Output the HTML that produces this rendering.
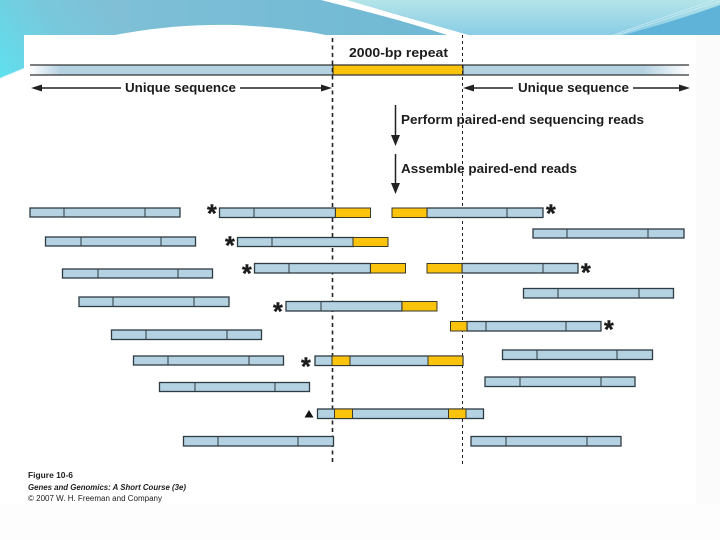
<!DOCTYPE html>
<html><head><meta charset="utf-8"><style>html,body{margin:0;padding:0;background:#fff}svg{display:block}text{font-family:"Liberation Sans",sans-serif;fill:#1c1c1c}.b{font-weight:bold;font-size:13px}.bar{fill:#b5d2e2;stroke:#2e3b42;stroke-width:1.3}.y{fill:#fcc30c;stroke:#3a3a2a;stroke-width:1}.d{stroke:#2e3b42;stroke-width:1}.s{font-weight:bold;font-size:25px;stroke:#1c1c1c;stroke-width:.4}</style></head><body>
<svg width="720" height="540" viewBox="0 0 720 540" xmlns="http://www.w3.org/2000/svg">
<defs>
<linearGradient id="bg" gradientUnits="userSpaceOnUse" x1="0" y1="78" x2="110" y2="0"><stop offset="0" stop-color="#5fe0ee"/><stop offset="0.55" stop-color="#78c8dc"/><stop offset="1" stop-color="#80bfd6"/></linearGradient>
<linearGradient id="bg2" x1="0" y1="0" x2="0" y2="1"><stop offset="0" stop-color="#b4e4e8"/><stop offset="1" stop-color="#88cce6"/></linearGradient>
<linearGradient id="bg3" x1="0" y1="0" x2="1" y2="0"><stop offset="0" stop-color="#7dbfd6"/><stop offset="1" stop-color="#6fb8d4"/></linearGradient>
<linearGradient id="l" x1="0" y1="0" x2="1" y2="0"><stop offset="0" stop-color="#fff"/><stop offset="0.1" stop-color="#b5d2e2"/><stop offset="1" stop-color="#b5d2e2"/></linearGradient>
<linearGradient id="r" x1="1" y1="0" x2="0" y2="0"><stop offset="0" stop-color="#fff"/><stop offset="0.2" stop-color="#b5d2e2"/><stop offset="1" stop-color="#b5d2e2"/></linearGradient>
</defs>
<rect width="720" height="540" fill="#fff"/>
<path d="M0 0H130V36H24V68L0 78Z" fill="url(#bg)"/>
<rect x="130" y="0" width="340" height="36" fill="url(#bg3)"/>
<path d="M345 0H720V36H470C430 24 385 10 345 0Z" fill="url(#bg2)"/>
<path d="M321 0H347C385 11 430 24 472 36H450C405 21 360 10 321 0Z" fill="#fff"/>
<path d="M620 36C650 28 690 16 720 5V36Z" fill="#5fb2d8"/>
<path d="M610 36C650 22 690 8 720 -2" fill="none" stroke="#d8f0f4" stroke-width=".6"/>
<path d="M614 36C652 24 692 10 720 1" fill="none" stroke="#d8f0f4" stroke-width=".6"/>
<path d="M110 36C150 28 190 24 235 25C275 27 310 31 330 36Z" fill="#fff"/>
<path d="M0 79L24 69" stroke="#e8f8fa" stroke-width="1"/>
<rect x="24" y="35" width="672" height="470" fill="#fff"/>
<rect x="696" y="35" width="24" height="470" fill="#fbfbfb"/>
<rect x="0" y="505" width="720" height="35" fill="#fdfdfd"/>

<rect x="30" y="65" width="303" height="10" fill="url(#l)"/>
<rect x="463" y="65" width="226" height="10" fill="url(#r)"/>
<rect x="333" y="65" width="130" height="10" fill="#fcc30c"/>
<path d="M30 65H689M30 75H689" stroke="#333" stroke-width="1.3"/>
<path d="M333 65V75M463 65V75" stroke="#222" stroke-width="1"/>

<path d="M332.500 38V465" stroke="#222" stroke-width="1.6" stroke-dasharray="4 3.500"/>
<path d="M462.500 35V465" stroke="#222" stroke-width="1" stroke-dasharray="3 3"/>

<text class="b" x="349" y="57" textLength="99" lengthAdjust="spacingAndGlyphs">2000-bp repeat</text>
<text class="b" x="125" y="92" textLength="111" lengthAdjust="spacingAndGlyphs">Unique sequence</text>
<text class="b" x="518" y="92" textLength="111" lengthAdjust="spacingAndGlyphs">Unique sequence</text>
<text class="b" x="401" y="124" textLength="243" lengthAdjust="spacingAndGlyphs">Perform paired-end sequencing reads</text>
<text class="b" x="401" y="173" textLength="176" lengthAdjust="spacingAndGlyphs">Assemble paired-end reads</text>

<g stroke="#222" stroke-width="1.500"><path d="M38 88H121M240 88H325M470 88H513M633 88H682M395.500 105V136M395.500 154V186"/></g>
<g fill="#222"><path d="M31 88L42 84.500V91.500Z"/><path d="M332 88L321 84.500V91.500Z"/><path d="M463 88L474 84.500V91.500Z"/><path d="M690 88L679 84.500V91.500Z"/><path d="M395.500 146L391 135H400Z"/><path d="M395.500 194L391 183H400Z"/></g>

<!-- left -->
<rect class="bar" x="30" y="208" width="150" height="9"/><path class="d" d="M64 208v9M145 208v9"/>
<rect class="bar" x="45.500" y="237" width="150" height="9"/><path class="d" d="M81 237v9M161 237v9"/>
<rect class="bar" x="62.500" y="269" width="150" height="9"/><path class="d" d="M98 269v9M178 269v9"/>
<rect class="bar" x="79" y="297" width="150" height="9.500"/><path class="d" d="M113 297v9M194 297v9"/>
<rect class="bar" x="111.500" y="330" width="150" height="9.500"/><path class="d" d="M146 330v9M227 330v9"/>
<rect class="bar" x="133.500" y="356" width="150" height="9"/><path class="d" d="M168 356v9M249 356v9"/>
<rect class="bar" x="159.500" y="382.500" width="150" height="9"/><path class="d" d="M195 382v9M275 382v9"/>
<rect class="bar" x="183.500" y="436.500" width="150" height="9.500"/><path class="d" d="M218 436v10M298 436v10"/>

<!-- centre -->
<rect class="bar" x="219.500" y="208" width="116" height="9.500"/><rect class="y" x="335.500" y="208" width="35" height="9.500"/><path class="d" d="M254 208v9"/>
<rect class="bar" x="237.500" y="237.500" width="116" height="9"/><rect class="y" x="353" y="237.500" width="35" height="9"/><path class="d" d="M272 237v9"/>
<rect class="bar" x="254.500" y="263.500" width="116" height="9.500"/><rect class="y" x="370.500" y="263.500" width="35" height="9.500"/><path class="d" d="M289 264v9"/>
<rect class="bar" x="286" y="301.500" width="116" height="9.500"/><rect class="y" x="402" y="301.500" width="35" height="9.500"/><path class="d" d="M321 301v10"/>
<rect class="bar" x="315" y="356" width="148" height="9.500"/><rect class="y" x="332" y="356" width="18" height="9.500"/><rect class="y" x="428" y="356" width="35" height="9.500"/>
<rect class="bar" x="317.500" y="409" width="166" height="9.500"/><rect class="y" x="334.500" y="409" width="18" height="9.500"/><rect class="y" x="448.500" y="409" width="17.500" height="9.500"/>

<!-- right -->
<rect class="bar" x="427" y="208" width="116" height="9.500"/><rect class="y" x="392" y="208" width="35" height="9.500"/><path class="d" d="M507 208v9"/>
<rect class="bar" x="533" y="229" width="151" height="9"/><path class="d" d="M567 229v9M648 229v9"/>
<rect class="bar" x="462" y="263.500" width="116" height="9.500"/><rect class="y" x="427" y="263.500" width="35" height="9.500"/><path class="d" d="M543 264v9"/>
<rect class="bar" x="523.500" y="288.500" width="150" height="9.500"/><path class="d" d="M558 289v9M639 289v9"/>
<rect class="bar" x="467" y="321.500" width="134" height="9.500"/><rect class="y" x="450.500" y="321.500" width="16.500" height="9.500"/><path class="d" d="M486 321v10M566 321v10"/>
<rect class="bar" x="502.500" y="350" width="150" height="9.500"/><path class="d" d="M537 350v9M617 350v9"/>
<rect class="bar" x="485" y="377" width="150" height="9.500"/><path class="d" d="M520 377v9M601 377v9"/>
<rect class="bar" x="471" y="436.500" width="150" height="9.500"/><path class="d" d="M506 436v10M587 436v10"/>

<!-- stars -->
<text class="s" x="207" y="222">*</text>
<text class="s" x="225" y="254">*</text>
<text class="s" x="242" y="282">*</text>
<text class="s" x="273" y="320">*</text>
<text class="s" x="301" y="375">*</text>
<text class="s" x="546" y="222">*</text>
<text class="s" x="581" y="281">*</text>
<text class="s" x="604" y="338">*</text>
<path d="M309 410L304.500 417.500H313.500Z" fill="#111"/>

<text x="28" y="478" font-size="8" font-weight="bold" textLength="45" lengthAdjust="spacingAndGlyphs">Figure 10-6</text>
<text x="28" y="490" font-size="8" font-weight="bold" font-style="italic" textLength="158" lengthAdjust="spacingAndGlyphs">Genes and Genomics: A Short Course (3e)</text>
<text x="28" y="501" font-size="8" textLength="134" lengthAdjust="spacingAndGlyphs">© 2007 W. H. Freeman and Company</text>
</svg></body></html>
